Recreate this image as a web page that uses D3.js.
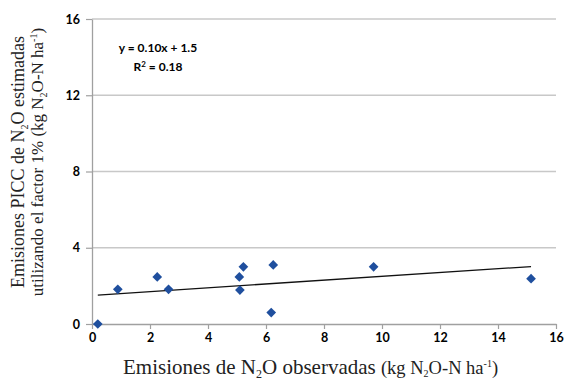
<!DOCTYPE html>
<html>
<head>
<meta charset="utf-8">
<script src="https://cdn.jsdelivr.net/npm/d3@7"></script>
<style>
  body { margin: 0; background: #fff; }
  .tick text { font-family: Lato, "Open Sans", sans-serif; font-weight: bold; font-size: 12.5px; fill: #000; }
</style>
</head>
<body>
<svg id="chart"></svg>
<script>
// observed vs estimated N2O emissions
const observed  = [0.2, 0.89, 2.25, 2.64, 5.08, 5.1, 5.22, 6.25, 6.18, 9.71, 15.14];
const estimated = [0.0, 1.82, 2.47, 1.82, 2.47, 1.78, 3.0, 3.1, 0.6, 3.0, 2.38];
const xTicks = [0, 2, 4, 6, 8, 10, 12, 14, 16];
const yTicks = [0, 4, 8, 12, 16];
const slope = 0.10, intercept = 1.5;

const config = { width: 566, height: 381, margin: { top: 19, right: 10, bottom: 57, left: 92 } };
const width = config.width - config.margin.left - config.margin.right;
const height = config.height - config.margin.top - config.margin.bottom;

const svg = d3.select('#chart')
  .attr('width', config.width)
  .attr('height', config.height);

const chart = svg.append('g')
  .attr('transform', `translate(${config.margin.left},${config.margin.top})`);

const xScale = d3.scaleLinear().domain([0, 16]).range([0, width]);
const yScale = d3.scaleLinear().domain([0, 16]).range([height, 0]);

// gridlines
chart.append('g')
  .selectAll('line')
  .data(yTicks.filter(d => d > 0))
  .join('line')
    .attr('x1', 0).attr('x2', width)
    .attr('y1', d => yScale(d)).attr('y2', d => yScale(d))
    .attr('stroke', '#c8c8c8')
    .attr('stroke-width', 1.3);

const xAxis = chart.append('g')
  .attr('transform', `translate(0,${height})`)
  .call(d3.axisBottom(xScale).tickValues(xTicks).tickSize(5).tickPadding(4).tickSizeOuter(0));

const yAxis = chart.append('g')
  .call(d3.axisLeft(yScale).tickValues(yTicks).tickSize(6).tickPadding(6).tickSizeOuter(0));

[xAxis, yAxis].forEach(a => {
  a.select('.domain').attr('stroke', '#a0a0a0').attr('stroke-width', 1.3);
  a.selectAll('.tick line').attr('stroke', '#a0a0a0').attr('stroke-width', 1.2);
});

// trend line
const xr = d3.extent(observed);
chart.append('line')
  .attr('x1', xScale(xr[0])).attr('y1', yScale(slope * xr[0] + intercept))
  .attr('x2', xScale(xr[1])).attr('y2', yScale(slope * xr[1] + intercept))
  .attr('stroke', '#111')
  .attr('stroke-width', 1.3);

// points
const diamond = d3.symbol().type(d3.symbolDiamond2).size(60);
chart.selectAll('.pt')
  .data(observed.map((x, i) => ({ x: x, y: estimated[i] })))
  .join('path')
    .attr('class', 'pt')
    .attr('d', diamond)
    .attr('transform', d => `translate(${xScale(d.x)},${yScale(d.y)})`)
    .attr('fill', '#1f4f9e');

// equation
const eq = chart.append('text')
  .attr('font-family', 'Lato, "Open Sans", sans-serif')
  .attr('font-weight', 'bold')
  .attr('font-size', 12)
  .attr('text-anchor', 'middle');
eq.append('tspan').attr('x', 66).attr('y', 33).text('y = 0.10x + 1.5');
const r2 = eq.append('tspan').attr('x', 66).attr('y', 52);
r2.append('tspan').text('R');
r2.append('tspan').attr('font-size', 8).attr('dy', -4).text('2');
r2.append('tspan').attr('dy', 4).text(' = 0.18');

// x axis title
const xt = svg.append('text')
  .attr('x', 123).attr('y', 374)
  .attr('font-family', '"Liberation Serif", "Times New Roman", serif')
  .attr('font-size', 21)
  .attr('fill', '#222');
xt.append('tspan').text('Emisiones de N');
xt.append('tspan').attr('font-size', 12).attr('dy', 4).text('2');
xt.append('tspan').attr('dy', -4).text('O observadas ');
xt.append('tspan').attr('font-size', 18.5).text('(kg N');
xt.append('tspan').attr('font-size', 10).attr('dy', 3).text('2');
xt.append('tspan').attr('font-size', 18.5).attr('dy', -3).text('O-N ha');
xt.append('tspan').attr('font-size', 10).attr('dy', -7).text('-1');
xt.append('tspan').attr('font-size', 18.5).attr('dy', 7).text(')');

// y axis title, two lines
const yt = svg.append('g')
  .attr('font-family', '"Liberation Serif", "Times New Roman", serif')
  .attr('fill', '#222')
  .attr('text-anchor', 'middle');

const l1 = yt.append('text').attr('font-size', 18).attr('transform', 'translate(24,162) rotate(-90)');
l1.append('tspan').text('Emisiones PICC de N');
l1.append('tspan').attr('font-size', 10).attr('dy', 4).text('2');
l1.append('tspan').attr('dy', -4).text('O estimadas');

const l2 = yt.append('text').attr('font-size', 17).attr('transform', 'translate(43,162) rotate(-90)');
l2.append('tspan').text('utilizando el factor 1% (kg N');
l2.append('tspan').attr('font-size', 10).attr('dy', 4).text('2');
l2.append('tspan').attr('dy', -4).text('O-N ha');
l2.append('tspan').attr('font-size', 10).attr('dy', -6).text('-1');
l2.append('tspan').attr('dy', 6).text(')');
</script>
</body>
</html>
